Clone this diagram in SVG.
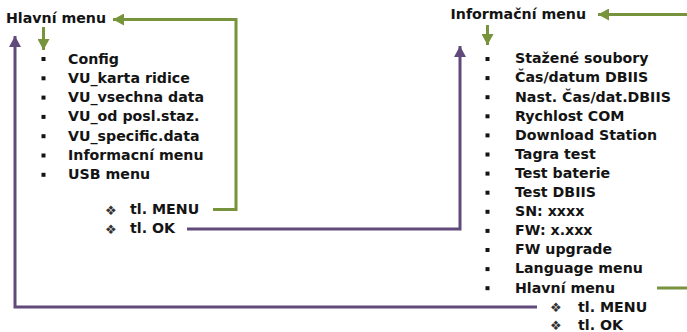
<svg xmlns="http://www.w3.org/2000/svg" width="687" height="332" viewBox="0 0 687 332">
<defs>
<style>
text{font-family:"DejaVu Sans","Verdana",sans-serif;font-weight:bold;font-size:14.2px;fill:#141414}
.dia{font-family:"DejaVu Sans",sans-serif;font-weight:normal;font-size:13px;fill:#333}
.g{stroke:#77933C;stroke-width:3;fill:none}
.p{stroke:#604A7B;stroke-width:3;fill:none}
.b{fill:#141414}
</style>
<marker id="ag" markerUnits="userSpaceOnUse" markerWidth="12" markerHeight="12" refX="11" refY="6" orient="auto"><path d="M0,0 L11,6 L0,12 z" fill="#77933C"/></marker>
<marker id="ap" markerUnits="userSpaceOnUse" markerWidth="12" markerHeight="12" refX="11" refY="6" orient="auto"><path d="M0,0 L11,6 L0,12 z" fill="#604A7B"/></marker>
</defs>
<rect width="687" height="332" fill="#fff"/>
<g id="connectors">
<polyline class="g" points="213,209.5 236,209.5 236,19.5 113,19.5" marker-end="url(#ag)"/>
<line class="g" x1="43.5" y1="27" x2="43.5" y2="50" marker-end="url(#ag)"/>
<polyline class="p" points="537,307 15,307 15,36" marker-end="url(#ap)"/>
<polyline class="p" points="187,229 460,229 460,46" marker-end="url(#ap)"/>
<line class="g" x1="687" y1="14.5" x2="598" y2="14.5" marker-end="url(#ag)"/>
<line class="g" x1="487.5" y1="25" x2="487.5" y2="45" marker-end="url(#ag)"/>
<line class="g" x1="657" y1="288" x2="687" y2="288"/>
</g>
<g id="hlavni-menu">
<text x="6" y="23">Hlavní menu</text>
<g class="b">
<rect x="41.5" y="57" width="4" height="4"/>
<rect x="41.5" y="76.3" width="4" height="4"/>
<rect x="41.5" y="95.6" width="4" height="4"/>
<rect x="41.5" y="114.9" width="4" height="4"/>
<rect x="41.5" y="134.2" width="4" height="4"/>
<rect x="41.5" y="153.5" width="4" height="4"/>
<rect x="41.5" y="172.8" width="4" height="4"/>
</g>
<text x="68" y="63.5">Config</text>
<text x="68" y="82.8">VU_karta ridice</text>
<text x="68" y="102.1">VU_vsechna data</text>
<text x="68" y="121.4">VU_od posl.staz.</text>
<text x="68" y="140.7">VU_specific.data</text>
<text x="68" y="160">Informacní menu</text>
<text x="68" y="179.3">USB menu</text>
<text class="dia" x="105" y="214.5">❖</text>
<text x="130" y="214.3">tl. MENU</text>
<text class="dia" x="105" y="233.5">❖</text>
<text x="130" y="233.3">tl. OK</text>
</g>
<g id="informacni-menu">
<text x="450.5" y="19.3">Informační menu</text>
<g class="b">
<rect x="485.5" y="57" width="4" height="4"/>
<rect x="485.5" y="76.1" width="4" height="4"/>
<rect x="485.5" y="95.2" width="4" height="4"/>
<rect x="485.5" y="114.3" width="4" height="4"/>
<rect x="485.5" y="133.4" width="4" height="4"/>
<rect x="485.5" y="152.5" width="4" height="4"/>
<rect x="485.5" y="171.6" width="4" height="4"/>
<rect x="485.5" y="190.7" width="4" height="4"/>
<rect x="485.5" y="209.8" width="4" height="4"/>
<rect x="485.5" y="228.9" width="4" height="4"/>
<rect x="485.5" y="248" width="4" height="4"/>
<rect x="485.5" y="267.1" width="4" height="4"/>
<rect x="485.5" y="286.2" width="4" height="4"/>
</g>
<text x="515" y="63.3">Stažené soubory</text>
<text x="515" y="82.4">Čas/datum DBIIS</text>
<text x="515" y="101.5">Nast. Čas/dat.DBIIS</text>
<text x="515" y="120.6">Rychlost COM</text>
<text x="515" y="139.7">Download Station</text>
<text x="515" y="158.8">Tagra test</text>
<text x="515" y="177.9">Test baterie</text>
<text x="515" y="197">Test DBIIS</text>
<text x="515" y="216.1">SN: xxxx</text>
<text x="515" y="235.2">FW: x.xxx</text>
<text x="515" y="254.3">FW upgrade</text>
<text x="515" y="273.4">Language menu</text>
<text x="515" y="292.5">Hlavní menu</text>
<text class="dia" x="550" y="312">❖</text>
<text x="578" y="311.8">tl. MENU</text>
<text class="dia" x="550" y="330">❖</text>
<text x="578" y="329.5">tl. OK</text>
</g>
</svg>
